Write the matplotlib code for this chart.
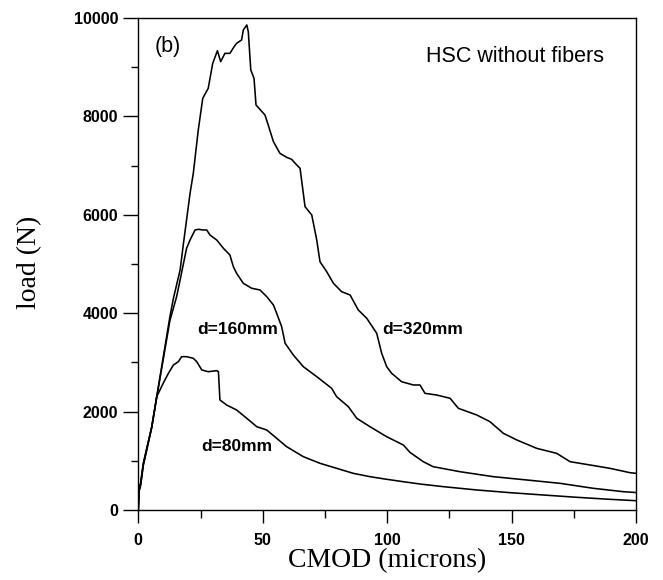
"""Load vs CMOD curves, HSC without fibers (panel b)."""
import numpy as np
import matplotlib
matplotlib.use("Agg")
import matplotlib.pyplot as plt
from matplotlib.ticker import MultipleLocator

# --- data (CMOD in microns, load in N) ---
cmod_320 = [0, 0.3, 0.7, 2.0, 5.4, 7.4, 12.7, 14.1, 16.8, 18.1, 20.8, 22.1, 24.1, 25.9,
            28.1, 29.9, 31.8, 33.1, 34.8, 36.8, 38.5, 39.5, 41.5, 42.2, 43.6, 44.2, 45.2,
            46.5, 47.3, 50.9, 52.2, 54.3, 56.9, 59.6, 61.6, 63.0, 65.0, 67.0, 69.7, 71.7,
            73.0, 75.7, 78.4, 81.7, 85.1, 88.4, 91.8, 95.8, 97.8, 99.8, 101.8, 105.8,
            110.5, 113.2, 115.2, 119.9, 125.3, 128.6, 136.0, 141.3, 146.7, 152.1, 160.1,
            168.1, 173.5, 181.5, 189.5, 197.6, 200.0]
load_320 = [0, 420, 474, 949, 1693, 2303, 3929, 4300, 4878, 5400, 6437, 6843, 7724, 8368,
            8571, 9078, 9336, 9112, 9281, 9281, 9417, 9485, 9553, 9756, 9858, 9722, 8943,
            8774, 8232, 8028, 7825, 7486, 7250, 7168, 7128, 7047, 6945, 6165, 5996, 5488,
            5047, 4844, 4608, 4437, 4370, 4065, 3896, 3591, 3185, 2913, 2778, 2608,
            2541, 2541, 2371, 2337, 2270, 2067, 1931, 1795, 1558, 1423, 1253,
            1152, 982, 915, 847, 758, 745]

cmod_160 = [0, 0.3, 0.8, 2.0, 5.4, 7.4, 12.7, 15.4, 16.8, 19.4, 20.8, 22.8, 24.1, 26.1,
            27.5, 28.8, 31.5, 34.2, 36.8, 38.2, 39.5, 42.2, 45.6, 48.9, 51.6, 54.3, 55.6,
            57.6, 59.0, 62.3, 66.3, 71.7, 77.7, 79.7, 84.4, 87.8, 93.1, 99.8, 106.5,
            109.2, 114.5, 118.5, 129.3, 142.7, 156.1, 169.5, 182.8, 194.9, 200.0]
load_160 = [0, 380, 460, 930, 1680, 2290, 3850, 4336, 4675, 5319, 5488, 5691, 5705, 5691,
            5691, 5589, 5488, 5319, 5183, 4945, 4810, 4607, 4506, 4472, 4336, 4167, 3998,
            3726, 3388, 3150, 2913, 2710, 2473, 2303, 2100, 1863, 1693, 1490, 1321,
            1170, 982, 880, 778, 677, 610, 542, 441, 372, 355]

cmod_80 = [0, 0.4, 1.0, 2.0, 5.4, 7.4, 10.0, 12.1, 14.1, 16.1, 17.4, 19.4, 22.1, 23.5,
           25.5, 28.1, 31.5, 32.2, 32.8, 35.5, 39.5, 43.6, 47.6, 51.6, 55.6, 59.6, 66.3,
           73.0, 79.7, 86.4, 93.1, 99.8, 106.5, 113.2, 122.6, 136.0, 149.4, 162.7, 176.2,
           189.5, 200.0]
load_80 = [0, 500, 520, 900, 1680, 2303, 2575, 2778, 2947, 3014, 3116, 3116, 3083, 3014,
           2846, 2811, 2832, 2811, 2236, 2134, 2033, 1863, 1693, 1626, 1457, 1287, 1084,
           949, 847, 745, 677, 624, 575, 528, 474, 407, 352, 305, 258,
           217, 189]

labels = ["d=320mm", "d=160mm", "d=80mm"]
label_pos = [(114.2, 3660), (39.9, 3660), (39.6, 1290)]

fig = plt.figure(figsize=(6.63, 5.8), dpi=100)
ax = fig.add_axes([0.2086, 0.1207, 0.7507, 0.8483])

for xs, ys in [(cmod_320, load_320), (cmod_160, load_160), (cmod_80, load_80)]:
    ax.plot(xs, ys, color="black", lw=1.15)

for txt, (tx, ty) in zip(labels, label_pos):
    ax.text(tx, ty, txt, ha="center", va="center", fontsize=12.5,
            fontweight="bold", family="Liberation Sans")

ax.text(12.0, 9420, "(b)", ha="center", va="center", fontsize=15.5,
        family="Liberation Sans")
ax.text(151.2, 9215, "HSC without fibers", ha="center", va="center", fontsize=15.5,
        family="Liberation Sans")

ax.set_xlim(0, 200)
ax.set_ylim(0, 10000)
ax.xaxis.set_major_locator(MultipleLocator(50))
ax.xaxis.set_minor_locator(MultipleLocator(25))
ax.yaxis.set_major_locator(MultipleLocator(2000))
ax.yaxis.set_minor_locator(MultipleLocator(1000))

ax.tick_params(axis="x", which="major", direction="out", length=9.4, width=1, pad=7)
ax.tick_params(axis="x", which="minor", direction="out", length=5.8, width=1)
ax.tick_params(axis="y", which="major", direction="out", length=10.8, width=1, pad=3.5)
ax.tick_params(axis="y", which="minor", direction="out", length=5, width=1)
for lab in ax.get_xticklabels() + ax.get_yticklabels():
    lab.set_fontfamily("Liberation Sans")
    lab.set_fontweight("bold")
    lab.set_fontsize(11.5)

for sp in ax.spines.values():
    sp.set_linewidth(1.0)

ax.set_xlabel("CMOD (microns)", fontsize=20, family="Liberation Serif", va="top")
ax.xaxis.set_label_coords(0.5, -0.078)
ax.set_ylabel("load (N)", fontsize=20, family="Liberation Serif", va="center")
ax.yaxis.set_label_coords(-0.218, 0.504)

fig.savefig("out.png", dpi=100)
